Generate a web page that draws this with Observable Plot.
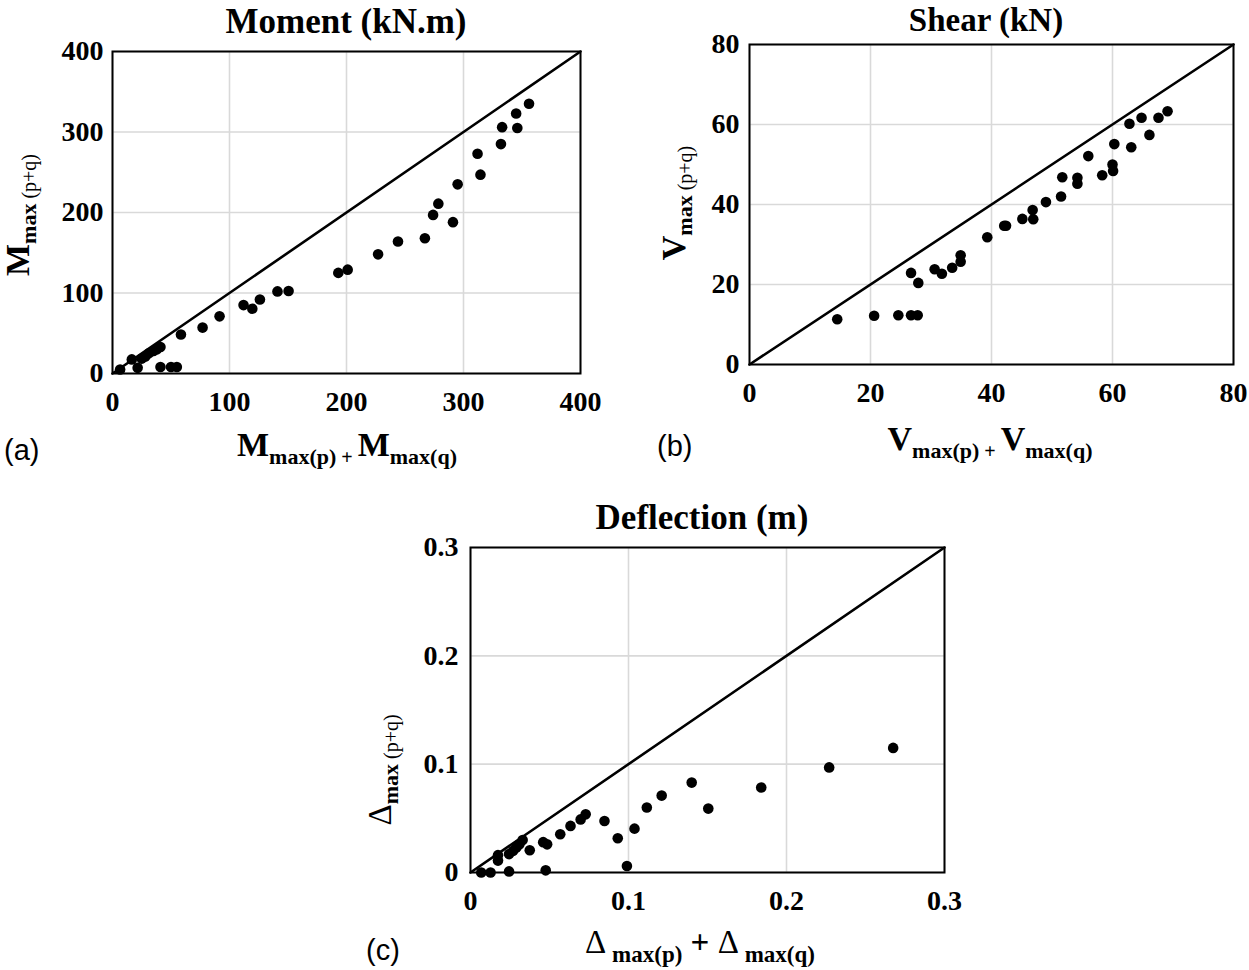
<!DOCTYPE html>
<html>
<head>
<meta charset="utf-8">
<script src="https://cdn.jsdelivr.net/npm/d3@7"></script>
<script src="https://cdn.jsdelivr.net/npm/@observablehq/plot@0.6"></script>
<style>
  html, body { margin: 0; padding: 0; background: #fff; }
  #page { position: relative; width: 1249px; height: 970px; overflow: hidden; background: #fff; }
  #page > svg, #page > figure { position: absolute; margin: 0; }
  .ov { position: absolute; left: 0; top: 0; pointer-events: none; }
</style>
</head>
<body>
<div id="page"></div>
<script>
// ---------- data ----------
const momentX = [6.5, 16.5, 21.5, 25, 28, 31, 35, 38, 41, 41, 50, 55, 58.5, 77, 91.5, 112, 119.5, 126, 141, 150.5, 193, 201, 227, 244, 267, 274, 278.5, 291, 295, 312, 314.5, 332, 333, 345, 346, 356];
const momentY = [5, 17.5, 7, 18.5, 21, 25, 28, 30, 33, 8, 8, 8, 48.5, 57, 71, 85, 80.5, 92, 102, 102.5, 125, 129, 148, 164, 168, 197, 211, 188, 235, 273, 247, 285, 306, 323, 305, 335];
const momentTicks = [0, 100, 200, 300, 400];

const shearX = [14.5, 20.6, 24.6, 26.7, 27.8, 26.7, 27.9, 30.6, 31.8, 33.5, 34.9, 34.9, 39.3, 42.1, 42.4, 45.1, 46.8, 46.9, 49, 51.5, 51.7, 54.2, 54.2, 56, 58.3, 60, 60.1, 60.3, 62.8, 63.1, 64.8, 66.1, 67.6, 69.1];
const shearY = [11.3, 12.2, 12.3, 12.3, 12.3, 22.9, 20.4, 23.8, 22.7, 24.2, 27.3, 25.7, 31.8, 34.7, 34.7, 36.4, 38.6, 36.3, 40.6, 42, 46.8, 46.7, 45.2, 52.1, 47.3, 50, 48.4, 55.1, 60.2, 54.3, 61.7, 57.4, 61.7, 63.3];
const shearTicks = [0, 20, 40, 60, 80];

const deflX = [0.0068, 0.0127, 0.0244, 0.0476, 0.099, 0.0174, 0.0174, 0.0244, 0.027, 0.029, 0.031, 0.033, 0.0375, 0.046, 0.0485, 0.0568, 0.0633, 0.0697, 0.0729, 0.0848, 0.0932, 0.1038, 0.1116, 0.121, 0.14, 0.1505, 0.184, 0.227, 0.2675];
const deflY = [0, 0, 0.001, 0.002, 0.006, 0.016, 0.011, 0.017, 0.02, 0.023, 0.026, 0.030, 0.0206, 0.028, 0.026, 0.0353, 0.043, 0.049, 0.0537, 0.0476, 0.0316, 0.0405, 0.06, 0.071, 0.083, 0.059, 0.0785, 0.097, 0.115];
const deflTicks = [0, 0.1, 0.2, 0.3];

// ---------- helpers ----------
const page = document.getElementById("page");
const SERIF = "'Liberation Serif', 'Times New Roman', serif";
const SANS = "'Liberation Sans', Arial, sans-serif";
const fmt = d3.format("~g");

function panel(xs, ys, ticks, box) {
  const pts = xs.map((x, i) => ({x, y: ys[i]}));
  const dom = [ticks[0], ticks[ticks.length - 1]];
  const diag = dom.map(v => ({x: v, y: v}));
  const chart = Plot.plot({
    width: box.width, height: box.height,
    marginLeft: box.mL, marginRight: box.mR, marginTop: box.mT, marginBottom: box.mB,
    style: {fontFamily: SERIF, fontSize: "28px", fontWeight: "bold", color: "black", background: "transparent", overflow: "visible"},
    x: {domain: dom, ticks: ticks},
    y: {domain: dom, ticks: ticks},
    marks: [
      Plot.gridX(ticks, {stroke: "#d9d9d9", strokeOpacity: 1, strokeWidth: 1.6}),
      Plot.gridY(ticks, {stroke: "#d9d9d9", strokeOpacity: 1, strokeWidth: 1.6}),
      Plot.axisX(ticks, {tickSize: 0, tickPadding: box.xPad, label: null, tickFormat: fmt, fontSize: 28, fontWeight: "bold"}),
      Plot.axisY(ticks, {tickSize: 0, tickPadding: box.yPad, label: null, tickFormat: fmt, fontSize: 28, fontWeight: "bold"}),
      Plot.line(diag, {x: "x", y: "y", stroke: "black", strokeWidth: 2.6}),
      Plot.dot(pts, {x: "x", y: "y", r: 5.3, fill: "black", stroke: "none"}),
      Plot.frame({stroke: "black", strokeWidth: 2})
    ]
  });
  chart.style.left = box.left + "px";
  chart.style.top = box.top + "px";
  page.appendChild(chart);
}

panel(momentX, momentY, momentTicks, {left: 0, top: 0, width: 620, height: 430, mL: 112, mR: 40, mT: 51, mB: 57, xPad: 18, yPad: 9});
panel(shearX, shearY, shearTicks, {left: 640, top: 0, width: 609, height: 430, mL: 109, mR: 16, mT: 44, mB: 66, xPad: 18, yPad: 10});
panel(deflX, deflY, deflTicks, {left: 360, top: 490, width: 620, height: 420, mL: 110, mR: 36, mT: 57, mB: 38, xPad: 18, yPad: 12});

// ---------- overlay text (titles, axis titles, panel letters) ----------
const NS = "http://www.w3.org/2000/svg";
const ov = document.createElementNS(NS, "svg");
ov.setAttribute("class", "ov");
ov.setAttribute("width", 1249);
ov.setAttribute("height", 970);
page.appendChild(ov);

function text(parts, x, y, opts = {}) {
  const t = document.createElementNS(NS, "text");
  t.setAttribute("x", x);
  t.setAttribute("y", y);
  t.setAttribute("text-anchor", opts.anchor || "middle");
  t.setAttribute("font-family", opts.family || SERIF);
  t.setAttribute("fill", "black");
  if (opts.rotate) t.setAttribute("transform", `rotate(-90 ${x} ${y})`);
  let shift = 0;
  for (const p of parts) {
    const s = document.createElementNS(NS, "tspan");
    s.textContent = p.t;
    s.setAttribute("font-size", p.size);
    s.setAttribute("font-weight", p.weight || "bold");
    const dy = (p.dy || 0) - shift;
    if (dy) s.setAttribute("dy", dy);
    shift = p.dy || 0;
    s.setAttribute("style", "white-space:pre");
    t.appendChild(s);
  }
  ov.appendChild(t);
}

// chart titles
text([{t: "Moment (kN.m)", size: 35}], 346, 33);
text([{t: "Shear (kN)", size: 33}], 986, 31);
text([{t: "Deflection (m)", size: 35}], 702, 529);

// x-axis titles
text([{t: "M", size: 34}, {t: "max(p)", size: 22, dy: 8}, {t: " + ", size: 20, dy: 8}, {t: "M", size: 34}, {t: "max(q)", size: 22, dy: 8}], 347, 456);
text([{t: "V", size: 34}, {t: "max(p)", size: 22, dy: 8}, {t: " + ", size: 20, dy: 8}, {t: "V", size: 34}, {t: "max(q)", size: 22, dy: 8}], 990, 450);
text([{t: "Δ", size: 33, weight: "normal"}, {t: " max(p)", size: 23, dy: 9}, {t: " + ", size: 33}, {t: "Δ", size: 33, weight: "normal"}, {t: " max(q)", size: 23, dy: 9}], 700, 953);

// y-axis titles
text([{t: "M", size: 34}, {t: "max", size: 22, dy: 7}, {t: " (p+q)", size: 20, weight: "normal", dy: 7}], 29, 215, {rotate: true});
text([{t: "V", size: 34}, {t: "max", size: 22, dy: 7}, {t: " (p+q)", size: 20, weight: "normal", dy: 7}], 685, 203, {rotate: true});
text([{t: "Δ", size: 33, weight: "normal"}, {t: "max", size: 22, dy: 7}, {t: " (p+q)", size: 20, weight: "normal", dy: 7}], 391, 770, {rotate: true});

// panel letters
text([{t: "(a)", size: 29, weight: "normal"}], 4, 460, {anchor: "start", family: SANS});
text([{t: "(b)", size: 29, weight: "normal"}], 657, 456, {anchor: "start", family: SANS});
text([{t: "(c)", size: 29, weight: "normal"}], 366, 960, {anchor: "start", family: SANS});
</script>
</body>
</html>
